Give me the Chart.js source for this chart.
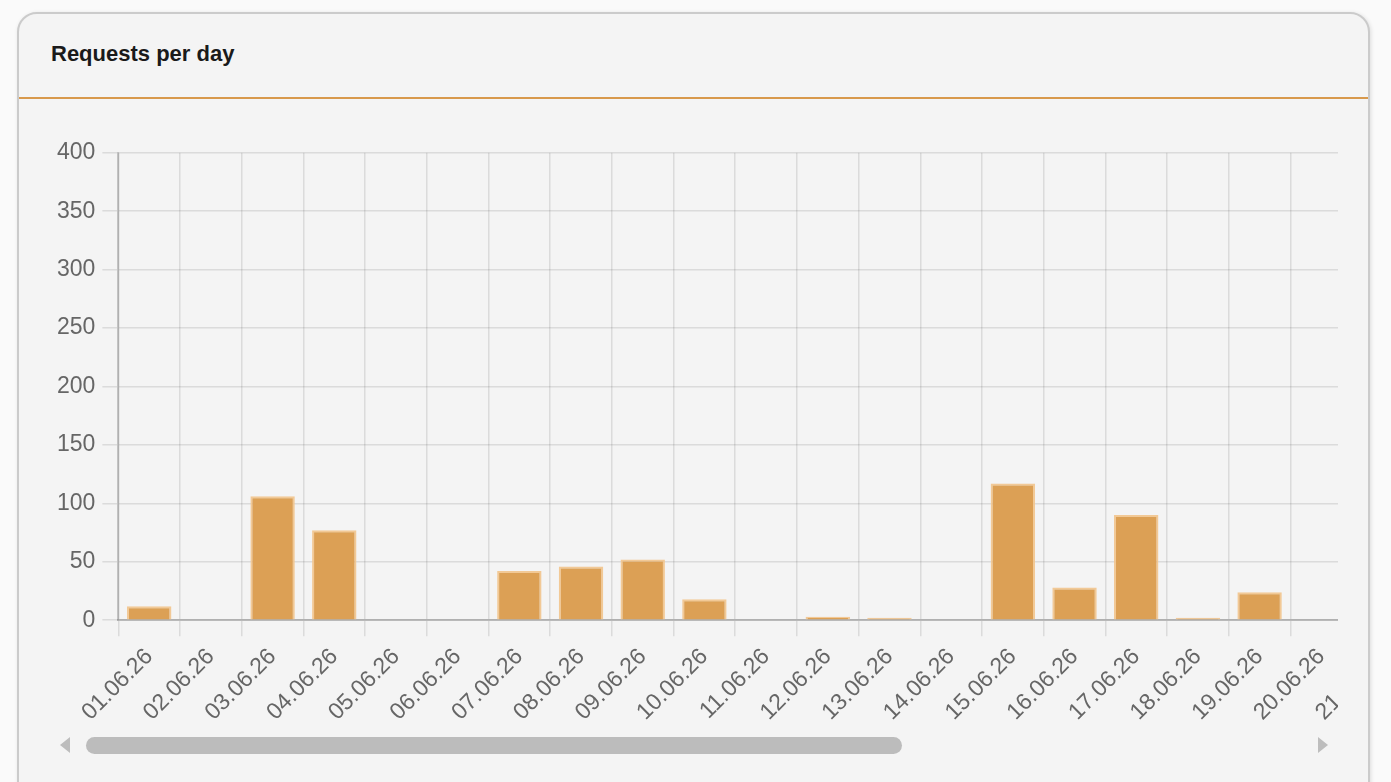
<!DOCTYPE html>
<html>
<head>
<meta charset="utf-8">
<script src="https://cdn.jsdelivr.net/npm/chart.js@4/dist/chart.umd.min.js"></script>
<style>
    html, body { margin: 0; padding: 0; background: #fafafa; overflow: hidden; }
    .card {
        position: absolute; left: 17px; top: 12px; width: 1349px; height: 820px;
        border: 2px solid #cbcbcb; border-radius: 20px; background: #f4f4f4;
        box-shadow: 1px 1px 4px rgba(0,0,0,0.12);
    }
    .card-header {
        height: 83px; border-bottom: 2px solid #d8994c;
        font-family: 'Liberation Sans', Arial, sans-serif; font-weight: bold; font-size: 22px;
        color: #1a1a1a; line-height: 80px; padding-left: 32px;
    }
    .chart-scroll {
        position: absolute; left: 31px; top: 118px; width: 1288px;
        overflow: hidden;
    }
    canvas { display: block; }
    /* fake horizontal scrollbar (headless hides native ones) */
    .sb-thumb {
        position: absolute; left: 67px; top: 723px; width: 816px; height: 17px;
        border-radius: 9px; background: #bcbcbc;
    }
    .sb-left, .sb-right {
        position: absolute; top: 723px; width: 0; height: 0;
        border-top: 8px solid transparent; border-bottom: 8px solid transparent;
    }
    .sb-left { left: 41px; border-right: 10px solid #bdbdbd; }
    .sb-right { left: 1299px; border-left: 10px solid #bdbdbd; }
</style>
</head>
<body>
<div class="card">
    <div class="card-header">Requests per day</div>
    <div class="chart-scroll">
        <canvas id="requests-day" width="1919" height="601"></canvas>
    </div>
    <div class="sb-left"></div>
    <div class="sb-thumb"></div>
    <div class="sb-right"></div>
</div>
<script>
const days = ['01.06.26', '02.06.26', '03.06.26', '04.06.26', '05.06.26', '06.06.26', '07.06.26', '08.06.26', '09.06.26', '10.06.26',
    '11.06.26', '12.06.26', '13.06.26', '14.06.26', '15.06.26', '16.06.26', '17.06.26', '18.06.26', '19.06.26', '20.06.26',
    '21.06.26', '22.06.26', '23.06.26', '24.06.26', '25.06.26', '26.06.26', '27.06.26', '28.06.26', '29.06.26', '30.06.26'];
const requests = [12, 0, 106, 77, 0, 0, 42, 46, 52, 18,
    0, 3, 2, 0, 117, 28, 90, 2, 24, 0,
    0, 0, 0, 0, 0, 0, 0, 0, 0, 0];
const yTicks = { min: 0, max: 400, step: 50 };

Chart.defaults.font.family = "'Liberation Sans', Arial, sans-serif";
Chart.defaults.font.size = 23;
Chart.defaults.color = '#666';

const SetData = (labels, values) => {
    const data = {
        labels: labels,
        datasets: [{
            label: 'Requests',
            data: values,
            backgroundColor: '#dca055',
            borderColor: 'rgba(242,196,140,0.9)',
            borderWidth: 2
        }]
    };

    return {
        type: 'bar',
        data: data,
        options: {
            responsive: false,
            animation: false,
            plugins: {
                legend: { display: false },
                tooltip: { enabled: false }
            },
            scales: {
                x: {
                    grid: { color: 'rgba(0,0,0,0.1)', lineWidth: 1.5, tickLength: 16 },
                    border: { color: 'rgba(0,0,0,0.2)', width: 2 },
                    ticks: { minRotation: 45, maxRotation: 45, autoSkip: false, padding: 7 }
                },
                y: {
                    min: yTicks.min,
                    max: yTicks.max,
                    grid: { color: 'rgba(0,0,0,0.1)', lineWidth: 1.5, tickLength: 16 },
                    border: { color: 'rgba(0,0,0,0.2)', width: 2 },
                    ticks: { stepSize: yTicks.step, padding: 7 }
                }
            }
        }
    };
};

const CreateDayChart = () => {
    const chartDays = new Chart(document.getElementById('requests-day'), SetData(days, requests));
};
CreateDayChart();
</script>
</body>
</html>
